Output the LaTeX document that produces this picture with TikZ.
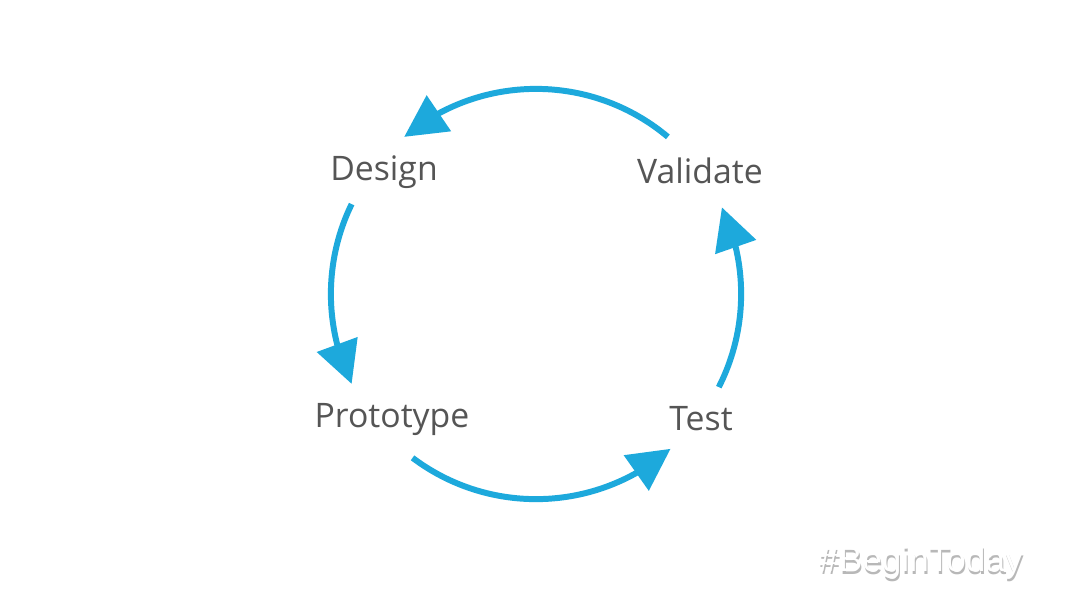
\documentclass[tikz,border=0pt]{standalone}
\usepackage{fontspec}
\setmainfont{Open Sans}
\newfontfamily\tagfont{Liberation Sans}
\usetikzlibrary{arrows.meta, bending, positioning}
\definecolor{cycleBlue}{HTML}{1DA9DC}
\definecolor{labelGray}{HTML}{555555}
\definecolor{shadowGray}{HTML}{B8B8B8}

\begin{document}
\begin{tikzpicture}[x=0.01cm, y=0.01cm,
    stage/.style={text=labelGray, font=\fontsize{9.6}{12}\selectfont, inner sep=0pt},
    cyclearrow/.style={line width=1.7pt, cycleBlue, -{Triangle[length=0.42cm, width=0.42cm, flex]}}]
    \useasboundingbox[fill=white] (0,0) rectangle (1080,608);
    \coordinate (hub) at (536,314);
    % stage labels
    \node[stage] (design) at (384,436) {Design};
    \node[stage] (validate) at (700,437) {Validate};
    \node[stage] (prototype) at (392,189) {Prototype};
    \node[stage] (test) at (701,189) {Test};
    % arcs of the cycle
    \draw[cyclearrow] (hub) ++(50:2.05cm) arc[start angle=50, end angle=130, radius=2.05cm];
    \draw[cyclearrow] (hub) ++(154:2.05cm) arc[start angle=154, end angle=206, radius=2.05cm];
    \draw[cyclearrow] (hub) ++(233:2.05cm) arc[start angle=233, end angle=311, radius=2.05cm];
    \draw[cyclearrow] (hub) ++(333:2.05cm) arc[start angle=333, end angle=385, radius=2.05cm];
    % hashtag with shadow
    \node[text=shadowGray, font=\tagfont\fontsize{10}{12}\selectfont, inner sep=0pt] (tagshadow) at (922,43) {\#BeginToday};
    \node[text=white, font=\tagfont\fontsize{10}{12}\selectfont, inner sep=0pt] (tag) at (921,46) {\#BeginToday};
\end{tikzpicture}
\end{document}
